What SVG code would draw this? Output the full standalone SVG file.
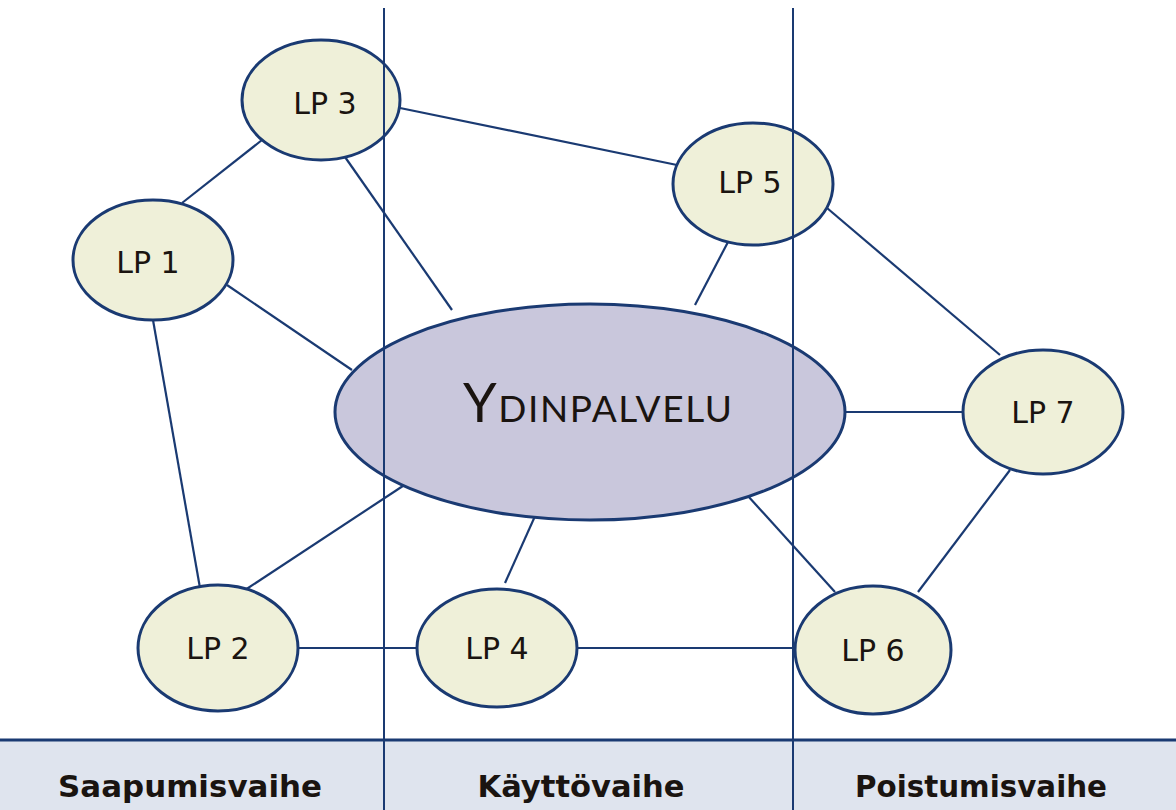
<svg xmlns="http://www.w3.org/2000/svg" width="1176" height="810" viewBox="0 0 1176 810">
<style>
.lp{fill:#eff0d9;stroke:#1a3a72;stroke-width:3}
.core{fill:#c9c7dc;stroke:#1a3a72;stroke-width:3}
.lbl{font-family:"DejaVu Sans",sans-serif;font-size:30px;fill:#1a1410;text-anchor:middle}
.con line{stroke:#1a3a72;stroke-width:2.2}
.div{stroke:#1a3a72;stroke-width:2}
.phase{font-family:"DejaVu Sans",sans-serif;font-weight:bold;font-size:30px;fill:#1a1410;text-anchor:middle}
</style>
<rect width="1176" height="810" fill="#ffffff"/>
<rect x="0" y="740" width="1176" height="70" fill="#dfe4ee"/>
<line x1="0" y1="740" x2="1176" y2="740" stroke="#1a3a72" stroke-width="3"/>
<g id="connectors" class="con">
<line x1="262" y1="140" x2="182" y2="203"/>
<line x1="400" y1="108" x2="677" y2="165"/>
<line x1="345" y1="157" x2="452" y2="310"/>
<line x1="227" y1="285" x2="352" y2="370"/>
<line x1="153" y1="320" x2="200" y2="588"/>
<line x1="728" y1="242" x2="695" y2="305"/>
<line x1="827" y1="208" x2="1000" y2="355"/>
<line x1="843" y1="412" x2="963" y2="412"/>
<line x1="412" y1="480" x2="245" y2="590"/>
<line x1="540" y1="505" x2="505" y2="583"/>
<line x1="738" y1="485" x2="835" y2="592"/>
<line x1="1010" y1="470" x2="918" y2="592"/>
<line x1="298" y1="648" x2="417" y2="648"/>
<line x1="577" y1="648" x2="795" y2="648"/>
</g>
<g id="core">
<ellipse class="core" cx="590" cy="412" rx="255" ry="108"/>
<text x="463" y="422" font-family="Lato,'Open Sans',sans-serif" font-size="37" fill="#1a1410" textLength="269" lengthAdjust="spacing"><tspan font-size="54">Y</tspan>DINPALVELU</text>
</g>
<g id="lp3"><ellipse class="lp" cx="321" cy="100" rx="79" ry="60"/><text class="lbl" x="325" y="114">LP 3</text></g>
<g id="lp1"><ellipse class="lp" cx="153" cy="260" rx="80" ry="60"/><text class="lbl" x="148" y="273">LP 1</text></g>
<g id="lp5"><ellipse class="lp" cx="753" cy="184" rx="80" ry="61"/><text class="lbl" x="750" y="193">LP 5</text></g>
<g id="lp7"><ellipse class="lp" cx="1043" cy="412" rx="80" ry="62"/><text class="lbl" x="1043" y="423">LP 7</text></g>
<g id="lp2"><ellipse class="lp" cx="218" cy="648" rx="80" ry="63"/><text class="lbl" x="218" y="659">LP 2</text></g>
<g id="lp4"><ellipse class="lp" cx="497" cy="648" rx="80" ry="59"/><text class="lbl" x="497" y="659">LP 4</text></g>
<g id="lp6"><ellipse class="lp" cx="873" cy="650" rx="78" ry="64"/><text class="lbl" x="873" y="661">LP 6</text></g>
<g id="dividers">
<line class="div" x1="384" y1="8" x2="384" y2="810"/>
<line class="div" x1="793" y1="8" x2="793" y2="810"/>
</g>
<g id="phases">
<text class="phase" x="190" y="797" textLength="264" lengthAdjust="spacingAndGlyphs">Saapumisvaihe</text>
<text class="phase" x="581" y="797" textLength="207" lengthAdjust="spacingAndGlyphs">Käyttövaihe</text>
<text class="phase" x="981" y="797" textLength="252" lengthAdjust="spacingAndGlyphs">Poistumisvaihe</text>
</g>
</svg>
